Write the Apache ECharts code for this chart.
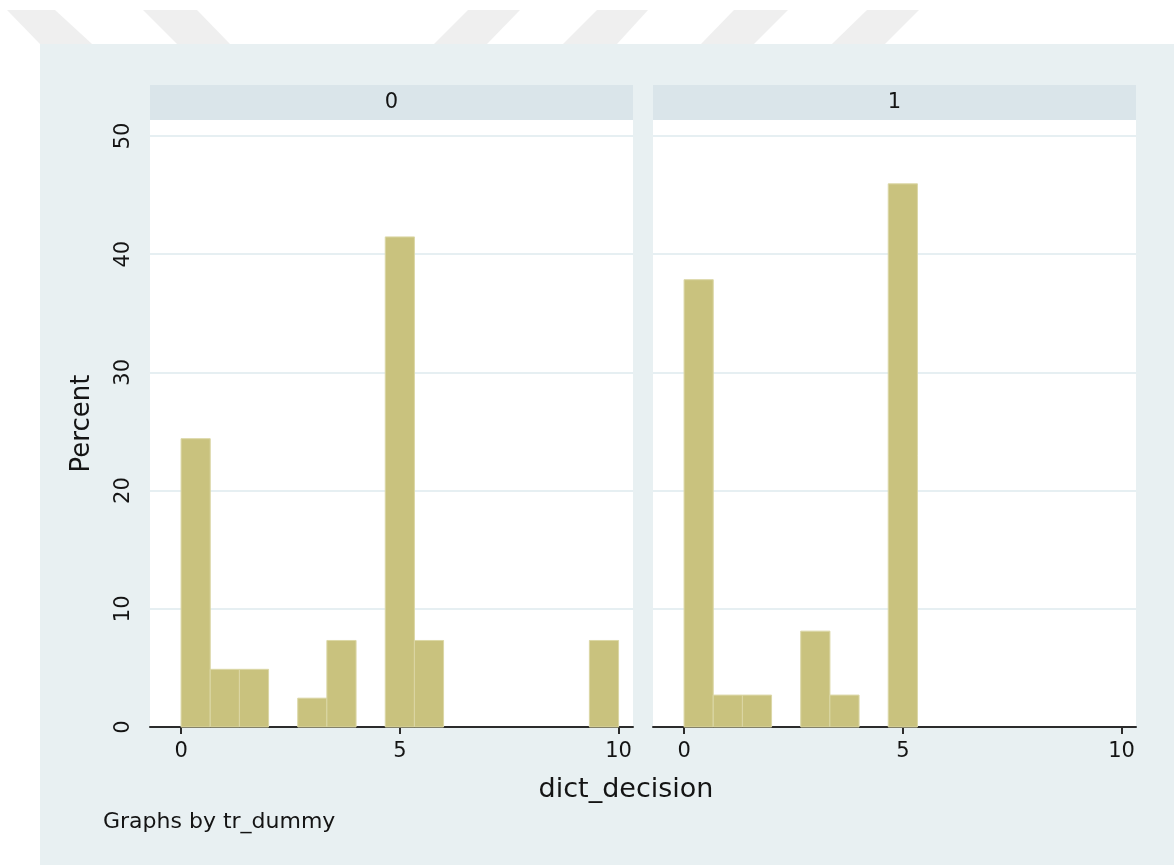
<!DOCTYPE html>
<html>
<head>
<meta charset="utf-8">
<script src="https://cdn.jsdelivr.net/npm/echarts@6/dist/echarts.min.js"></script>
<style>
  html, body { margin: 0; padding: 0; background: #ffffff; }
  #chart { width: 1174px; height: 865px; }
</style>
</head>
<body>
<div id="chart"></div>
<script>
// Histogram of dict_decision, one panel per tr_dummy group (15 bins of width 2/3 over 0..10)
const panelTitles = ['0', '1'];
const binStart = [0, 0.667, 1.333, 2, 2.667, 3.333, 4, 4.667, 5.333, 6, 6.667, 7.333, 8, 8.667, 9.333];
const binWidth = 0.667;
const percentGroup0 = [24.39, 4.88, 4.88, 0, 2.44, 7.32, 0, 41.46, 7.32, 0, 0, 0, 0, 0, 7.32];
const percentGroup1 = [37.84, 2.70, 2.70, 0, 8.11, 2.70, 0, 45.95, 0, 0, 0, 0, 0, 0, 0];
const xTicks = [0, 5, 10];
const yTicks = [0, 10, 20, 30, 40, 50];
const xTitle = 'dict_decision';
const yTitle = 'Percent';
const note = 'Graphs by tr_dummy';

const FONT = 'DejaVu Sans';
const BG = '#e8f0f2';
const STRIP = '#dae5ea';
const BAR = '#c9c27e';
const INK = '#141414';

const panels = [
  { left: 150, title: panelTitles[0], values: percentGroup0 },
  { left: 653, title: panelTitles[1], values: percentGroup1 }
];
const PANEL_W = 483, PANEL_TOP = 120, PANEL_H = 607;

function binsFor(values) {
  return binStart.map((s, i) => [s, s + binWidth, values[i]]).filter(d => d[2] > 0);
}

function renderBin(params, api) {
  const p0 = api.coord([api.value(0), api.value(2)]);
  const p1 = api.coord([api.value(1), 0]);
  return {
    type: 'rect',
    shape: { x: p0[0], y: p0[1], width: p1[0] - p0[0], height: p1[1] - p0[1] },
    style: { fill: BAR, stroke: '#dbd7a6', lineWidth: 1 }
  };
}

const grids = panels.map(p => ({
  left: p.left, top: PANEL_TOP, width: PANEL_W, height: PANEL_H,
  show: true, backgroundColor: '#ffffff', borderWidth: 0
}));

const xAxes = panels.map((p, i) => ({
  type: 'value', gridIndex: i, min: -0.71, max: 10.33,
  axisLine: { show: true, lineStyle: { color: '#2b2b2b', width: 2 } },
  axisTick: { show: true, customValues: xTicks, length: 7, lineStyle: { color: '#2b2b2b', width: 2 } },
  axisLabel: { show: true, customValues: xTicks, color: INK, fontFamily: FONT, fontSize: 21, margin: 14 },
  splitLine: { show: false }
}));

const yAxes = panels.map((p, i) => ({
  type: 'value', gridIndex: i, min: 0, max: 51.35,
  axisLine: { show: false },
  axisTick: { show: i === 0, customValues: yTicks, length: 10, lineStyle: { color: '#2b2b2b', width: 2 } },
  axisLabel: { show: i === 0, customValues: yTicks, rotate: 90, color: INK, fontFamily: FONT, fontSize: 21, margin: 16 },
  splitLine: { show: false },
  name: i === 0 ? yTitle : '',
  nameLocation: 'middle', nameRotate: 90, nameGap: 55,
  nameTextStyle: { color: INK, fontFamily: FONT, fontSize: 26 }
}));

const series = [];
panels.forEach((p, i) => {
  // horizontal reference lines behind the bars
  series.push({
    type: 'line', xAxisIndex: i, yAxisIndex: i, data: [], silent: true, z: 1,
    markLine: {
      silent: true, symbol: 'none', label: { show: false }, z: 1,
      lineStyle: { color: '#e6eff2', width: 2, type: 'solid' },
      data: yTicks.filter(v => v > 0).map(v => ({ yAxis: v }))
    }
  });
  series.push({
    type: 'custom', xAxisIndex: i, yAxisIndex: i,
    renderItem: renderBin, data: binsFor(p.values),
    encode: { x: [0, 1], y: 2 }, z: 3
  });
});

const stripes = [
  [[7, 10], [55, 10], [92, 44], [40, 44]],
  [[143, 10], [197, 10], [230, 44], [177, 44]],
  [[468, 10], [520, 10], [487, 44], [434, 44]],
  [[597, 10], [648, 10], [617, 44], [563, 44]],
  [[734, 10], [788, 10], [754, 44], [701, 44]],
  [[867, 10], [919, 10], [885, 44], [832, 44]]
];

const graphic = [
  ...stripes.map(pts => ({
    type: 'polygon', z: -20, silent: true,
    shape: { points: pts },
    style: { fill: '#efefef' }
  })),
  { type: 'rect', z: -10, silent: true, shape: { x: 40, y: 44, width: 1134, height: 821 }, style: { fill: BG } },
  ...panels.map(p => ({
    type: 'group', silent: true,
    children: [
      { type: 'rect', shape: { x: p.left, y: 85, width: PANEL_W, height: 35 }, style: { fill: STRIP } },
      { type: 'text', style: { x: p.left + PANEL_W / 2, y: 103, text: p.title, textAlign: 'center', textVerticalAlign: 'middle', fill: INK, font: '21px "DejaVu Sans"' } }
    ]
  })),
  { type: 'text', silent: true, style: { x: 626, y: 790, text: xTitle, textAlign: 'center', textVerticalAlign: 'middle', fill: INK, font: '27px "DejaVu Sans"' } },
  { type: 'text', silent: true, style: { x: 103, y: 822, text: note, textAlign: 'left', textVerticalAlign: 'middle', fill: INK, font: '22px "DejaVu Sans"' } }
];

const chart = echarts.init(document.getElementById('chart'), null, { renderer: 'canvas' });
chart.setOption({
  animation: false,
  backgroundColor: '#ffffff',
  grid: grids,
  xAxis: xAxes,
  yAxis: yAxes,
  series: series,
  graphic: graphic
});
</script>
</body>
</html>
